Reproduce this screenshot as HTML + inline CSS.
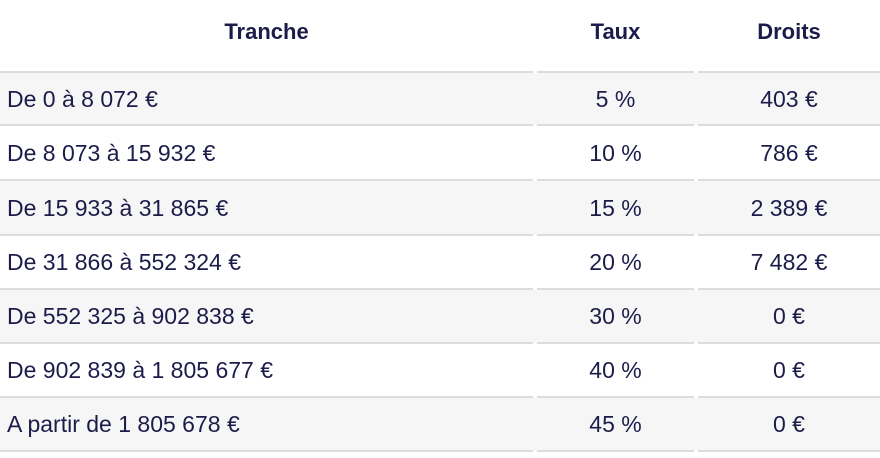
<!DOCTYPE html>
<html><head><meta charset="utf-8"><style>
body{margin:0;width:880px;height:458px;background:#fff;font-family:"Liberation Sans",Arial,sans-serif;color:#1c1c4a;position:relative;overflow:hidden}
.l{position:absolute;height:2px;background:#dcdcdc}
.bg{position:absolute;left:0;width:880px;background:#f6f6f6}
.t{position:absolute;font-size:23px;line-height:26px;white-space:nowrap}
.h{font-weight:bold;font-size:22px}
.c2{left:537px;width:157px;text-align:center}
.c3{left:698px;width:182px;text-align:center}
.c1{left:7px}
</style></head><body>
<div class="bg" style="top:73px;height:52px"></div>
<div class="bg" style="top:181px;height:54px"></div>
<div class="bg" style="top:290px;height:53px"></div>
<div class="bg" style="top:398px;height:53px"></div>
<div class="t h" style="left:0;width:533px;text-align:center;top:19px">Tranche</div>
<div class="t h c2" style="top:19px">Taux</div>
<div class="t h c3" style="top:19px">Droits</div>
<script>
var ys=[72,125,180,235,289,343,397,451];
var rows=[["De 0 à 8 072 €","5 %","403 €"],["De 8 073 à 15 932 €","10 %","786 €"],["De 15 933 à 31 865 €","15 %","2 389 €"],["De 31 866 à 552 324 €","20 %","7 482 €"],["De 552 325 à 902 838 €","30 %","0 €"],["De 902 839 à 1 805 677 €","40 %","0 €"],["A partir de 1 805 678 €","45 %","0 €"]];
var h="";
ys.forEach(function(y){h+='<div class="l" style="top:'+(y-1)+'px;left:0;width:533px"></div><div class="l" style="top:'+(y-1)+'px;left:537px;width:157px"></div><div class="l" style="top:'+(y-1)+'px;left:698px;width:182px"></div>';});
rows.forEach(function(r,i){var m=(ys[i]+ys[i+1])/2-13;h+='<div class="t c1" style="top:'+m+'px">'+r[0]+'</div><div class="t c2" style="top:'+m+'px">'+r[1]+'</div><div class="t c3" style="top:'+m+'px">'+r[2]+'</div>';});
document.body.insertAdjacentHTML('beforeend',h);
</script>
</body></html>
